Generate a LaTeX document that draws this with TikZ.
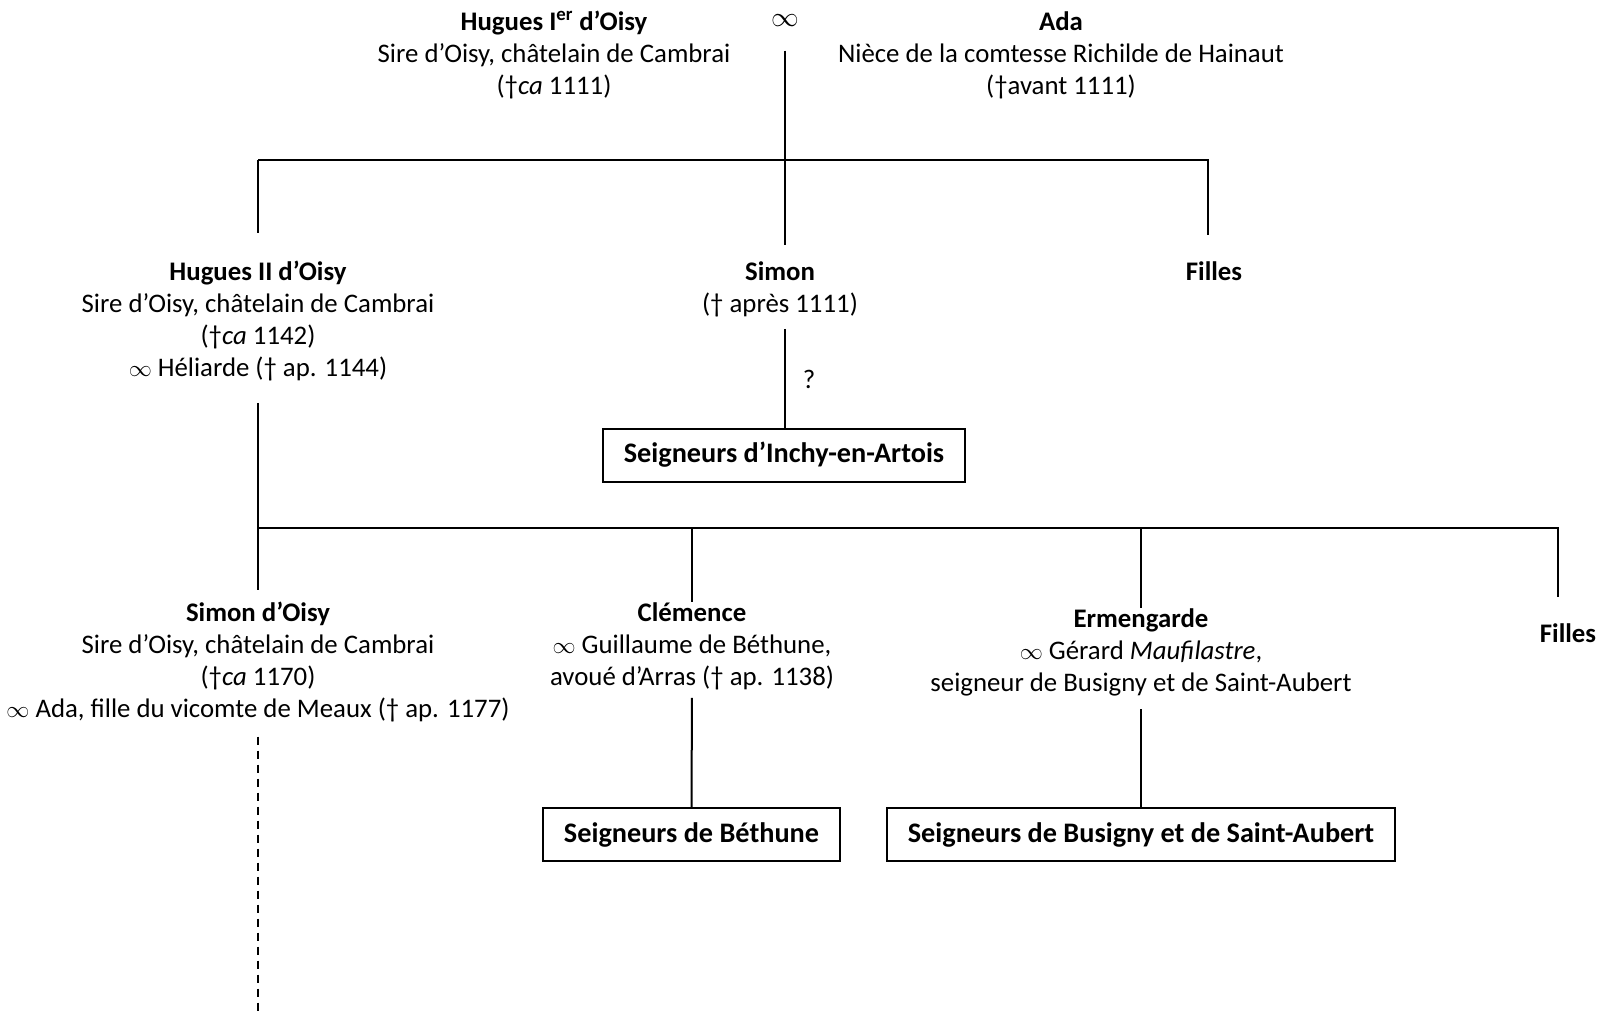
\documentclass[tikz,border=0pt]{standalone}
\usepackage{fontspec}
\setmainfont{Carlito}
\newcommand{\mar}{{\fontsize{17}{17}\selectfont$\infty$}}
\begin{document}
\begin{tikzpicture}[x=0.75pt,y=-0.75pt]
\tikzstyle{every node}+=[inner sep=0pt]
\tikzstyle{pers}=[anchor=north,align=center,font=\fontsize{20.1}{24}\selectfont]
\tikzstyle{branche}=[black,line width=1.5pt]
\tikzstyle{lignee}=[draw=black,line width=1.5pt,inner xsep=15.5pt,minimum height=39.75pt,font=\fontsize{21.2}{24}\selectfont\bfseries]
\useasboundingbox (0,0) rectangle (1600,1013);
\draw (554,11) node [pers] (hug1) {\textbf{Hugues I\textsuperscript{er} d’Oisy}\\Sire d’Oisy, châtelain de Cambrai\\(†\textit{ca} 1111)};
\draw (785,21) node [font=\fontsize{22}{22}\selectfont] (mariage) {$\infty$};
\draw (1061,11) node [pers] (ada) {\textbf{Ada}\\Nièce de la comtesse Richilde de Hainaut\\(†avant 1111)};
\draw (258,261) node [pers] (hug2) {\textbf{Hugues II d’Oisy}\\Sire d’Oisy, châtelain de Cambrai\\(†\textit{ca} 1142)\\\mar{} Héliarde († ap. 1144)};
\draw (780,261) node [pers] (simon) {\textbf{Simon}\\(† après 1111)};
\draw (1214,261) node [pers] (filles1) {\textbf{Filles}};
\draw (809,379) node [font=\fontsize{20.1}{24}\selectfont] (doute) {?};
\draw (784,455) node [lignee] (inchy) {Seigneurs d’Inchy-en-Artois};
\draw (258,602) node [pers] (simon2) {\textbf{Simon d’Oisy}\\Sire d’Oisy, châtelain de Cambrai\\(†\textit{ca} 1170)\\\mar{} Ada, fille du vicomte de Meaux († ap. 1177)};
\draw (692,602) node [pers] (clem) {\textbf{Clémence}\\\mar{} Guillaume de Béthune,\\avoué d’Arras († ap. 1138)};
\draw (1141,608) node [pers] (erm) {\textbf{Ermengarde}\\\mar{} Gérard \textit{Maufilastre},\\seigneur de Busigny et de Saint-Aubert};
\draw (1568,623) node [pers] (filles2) {\textbf{Filles}};
\draw (691.5,834.5) node [lignee] (bethune) {Seigneurs de Béthune};
\draw (1141,834.5) node [lignee] (busigny) {Seigneurs de Busigny et de Saint-Aubert};
% premiere generation
\coordinate (f1) at (785,160);
\coordinate (f1d) at (1208,160);
\draw [branche,shorten <=17.5pt,shorten >=12pt] (mariage) -- (mariage |- simon.north);
\draw [branche] (hug2 |- f1) -- (f1d) -- ++(0,75);
\draw [branche,shorten >=21pt] (hug2 |- f1) -- (hug2.north);
\draw [branche,shorten <=9pt] (simon.south -| mariage) -- (inchy.north -| mariage);
% deuxieme generation
\coordinate (f2) at (258,528);
\coordinate (f2d) at (1558,528);
\draw [branche,shorten <=16pt,shorten >=9pt] (hug2.south) -- (simon2.north);
\draw [branche] (f2) -- (f2d) -- ++(0,69);
\draw [branche] (clem |- f2) -- (clem.north);
\draw [branche] (erm |- f2) -- (erm.north);
\draw [branche,shorten <=6pt] (clem.south) -- (bethune.north);
\draw [branche,shorten <=10pt] (erm.south) -- (busigny.north);
\coordinate (fin) at (258,1013);
\draw [branche,dash pattern=on 6pt off 4.5pt,shorten <=10.5pt] (simon2.south) -- (fin);
\end{tikzpicture}
\end{document}
